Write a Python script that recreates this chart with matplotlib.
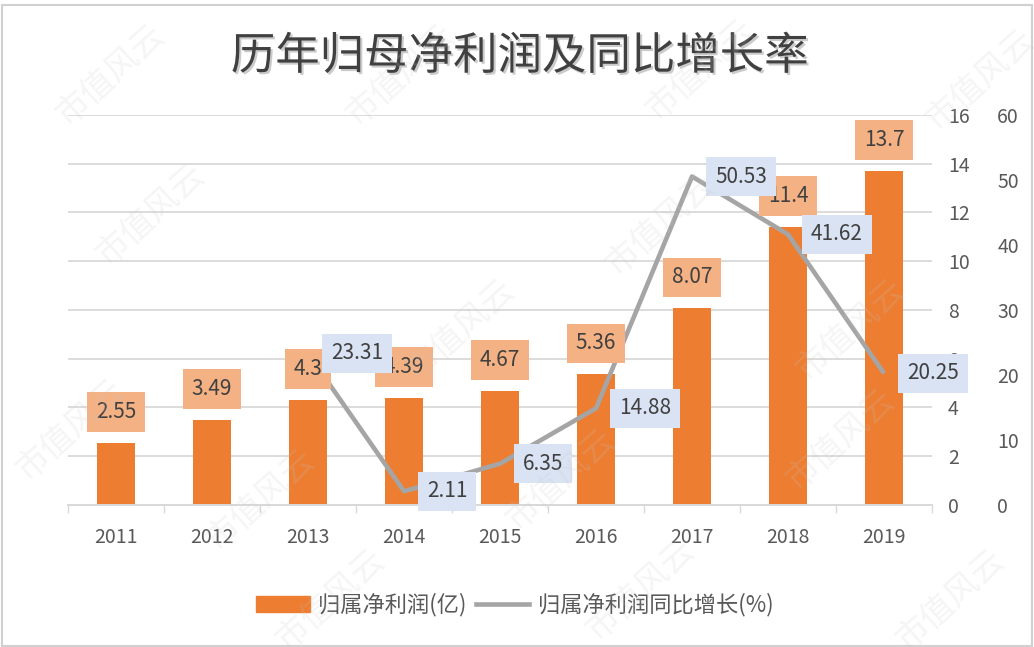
import numpy as np
import matplotlib.pyplot as plt
import matplotlib.patheffects as pe
from matplotlib.patches import Patch
from matplotlib.lines import Line2D

plt.rcParams['font.family'] = ['Noto Sans CJK SC', 'DejaVu Sans']

# data
years = ['2011', '2012', '2013', '2014', '2015', '2016', '2017', '2018', '2019']
profit = [2.55, 3.49, 4.3, 4.39, 4.67, 5.36, 8.07, 11.4, 13.7]
growth_years = ['2013', '2014', '2015', '2016', '2017', '2018', '2019']
growth = [23.31, 2.11, 6.35, 14.88, 50.53, 41.62, 20.25]
profit_ticks = [0, 2, 4, 6, 8, 10, 12, 14, 16]
growth_ticks = [0, 10, 20, 30, 40, 50, 60]

bar_color = '#ED7D31'
line_color = '#A5A5A5'
text_color = '#595959'
grid_color = '#D9D9D9'

fig = plt.figure(figsize=(10.34, 6.47), dpi=100)
fig.patch.set_facecolor('white')
ax = fig.add_axes([0.0658, 0.2195, 0.8356, 0.6028])
ax2 = ax.twinx()

x = np.arange(len(years))
gx = np.array([years.index(y) for y in growth_years])

ax.bar(x, profit, width=0.4, color=bar_color, zorder=2)
ax2.plot(gx, growth, color=line_color, lw=3.3, solid_joinstyle='round',
         solid_capstyle='butt', zorder=3)

ax.set_xlim(-0.5, len(years) - 0.5)
ax.set_ylim(0, 16)
ax2.set_ylim(0, 60)
ax.set_yticks(profit_ticks)
ax2.set_yticks(growth_ticks)
ax.set_xticks(x)
ax.set_xticklabels(years)
ax.set_xticks(np.arange(len(years) + 1) - 0.5, minor=True)

ax.yaxis.tick_right()
ax.tick_params(axis='y', length=0, pad=11.5, labelsize=14, labelcolor=text_color)
ax2.tick_params(axis='y', length=0, pad=47, labelsize=14, labelcolor=text_color)
ax.tick_params(axis='x', which='major', length=0, pad=16, labelsize=14,
               labelcolor=text_color)
ax.tick_params(axis='x', which='minor', length=6, width=1, color=grid_color)
for lab in ax.get_yticklabels() + ax2.get_yticklabels():
    lab.set_ha('left')

ax.yaxis.grid(True, color=grid_color, lw=1.3, zorder=0)
ax.set_axisbelow(True)
for a in (ax, ax2):
    for s in ('top', 'left', 'right'):
        a.spines[s].set_visible(False)
    a.spines['bottom'].set_color(grid_color)
    a.spines['bottom'].set_linewidth(1.3)

# bar labels (drawn on ax2 so they sit above the line)
for xi, v in zip(x, profit):
    ax2.annotate(f'{v:g}', xy=(xi, v), xycoords=ax.transData,
                 xytext=(0, 31), textcoords='offset pixels',
                 ha='center', va='center', fontsize=15, color='#404040',
                 bbox=dict(boxstyle='square,pad=0.42', fc='#F4B183', ec='none'),
                 zorder=5)

# growth labels
for xi, v in zip(gx, growth):
    ax2.annotate(f'{v:.2f}', xy=(xi, v), xytext=(23, 0),
                 textcoords='offset pixels', ha='left', va='center',
                 fontsize=15, color='#404040',
                 bbox=dict(boxstyle='square,pad=0.42', fc='#DAE3F3', ec='none'),
                 zorder=6)

# title
fig.text(0.503, 0.913, '历年归母净利润及同比增长率', ha='center', va='center',
         fontsize=32, color='#404040',
         path_effects=[pe.withSimplePatchShadow(offset=(1.5, -1.5),
                                                shadow_rgbFace='#BFBFBF',
                                                alpha=0.8)])

# legend
handles = [Patch(color=bar_color, label='归属净利润(亿)'),
           Line2D([0], [0], color=line_color, lw=3.3, label='归属净利润同比增长(%)')]
fig.legend(handles=handles, loc='center', bbox_to_anchor=(0.498, 0.065),
           ncol=2, frameon=False, fontsize=16, handlelength=2.4,
           handleheight=0.75, columnspacing=0.4, handletextpad=0.4,
           labelcolor=text_color)

# watermark
marks = [(110, 75), (400, 75), (700, 70), (980, 80),
         (150, 215), (460, 330), (660, 225), (850, 330),
         (70, 430), (260, 500), (560, 480), (840, 440),
         (330, 600), (640, 590), (950, 600)]
for mx, my in marks:
    fig.text(mx / 1034, 1 - my / 647, '市值风云', ha='center', va='center',
             rotation=42, fontsize=24, color='#C8C8C8', alpha=0.18, zorder=10)

# frame
fig.add_artist(plt.Rectangle((0.002, 0.002), 0.996, 0.99, transform=fig.transFigure,
                             fill=False, ec='#D0D0D0', lw=1.5))

fig.savefig('out.png', dpi=100)
